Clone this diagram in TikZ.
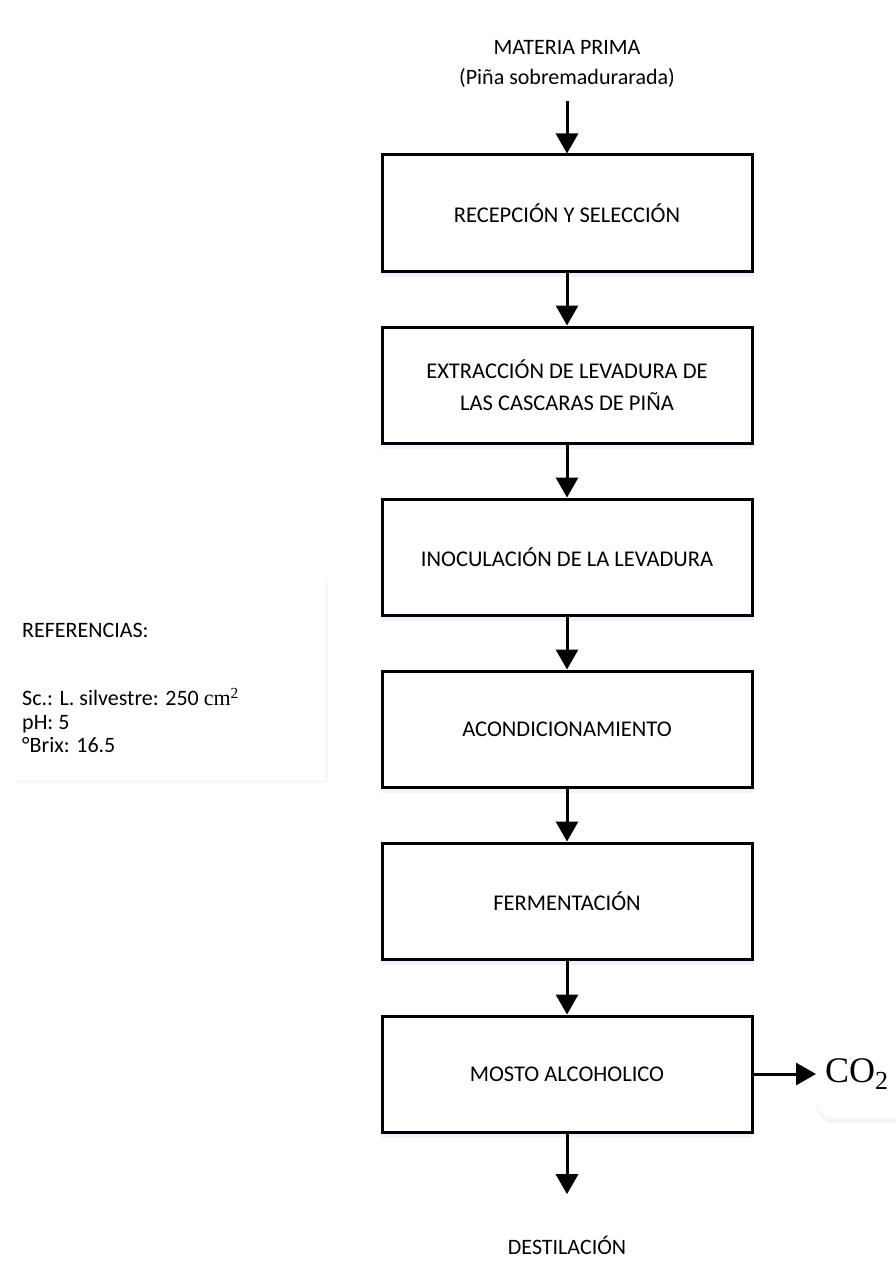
\documentclass[tikz,border=0pt]{standalone}
\usepackage{fontspec}
\setmainfont{Carlito}
\newfontfamily\serifco{Liberation Serif}
\usetikzlibrary{arrows.meta,shadows}

\begin{document}
\begin{tikzpicture}[x=1pt,y=-1pt,
  lbl/.style={align=center,font=\fontsize{22}{30}\selectfont},
  proc/.style={draw,line width=3pt,fill=white,minimum width=370pt,minimum height=116pt,
    align=center,font=\fontsize{22.5}{32}\selectfont,
    drop shadow={shadow xshift=0pt,shadow yshift=-6pt,opacity=0.25,fill=blue!20}},
  flow/.style={line width=3pt,-{Triangle[length=20pt,width=22pt]}}]
\useasboundingbox[fill=white] (0,0) rectangle (896,1268);

\node[lbl] (mp) at (567,64) {MATERIA PRIMA\\(Piña sobremadurarada)};
\node[proc] (rec) at (567,213) {RECEPCIÓN Y SELECCIÓN};
\node[proc] (ext) at (567,385) {EXTRACCIÓN DE LEVADURA DE\\LAS CASCARAS DE PIÑA};
\node[proc] (ino) at (567,557) {INOCULACIÓN DE LA LEVADURA};
\node[proc] (aco) at (567,729) {ACONDICIONAMIENTO};
\node[proc] (fer) at (567,901) {FERMENTACIÓN};
\node[proc] (mos) at (567,1074) {MOSTO ALCOHOLICO};
\node[lbl] (des) at (567,1245) {DESTILACIÓN};

% referencias
\node[fill=white,minimum width=313pt,minimum height=205pt,anchor=north west,
  drop shadow={shadow xshift=3pt,shadow yshift=-3pt,opacity=0.15,fill=blue!20}] (refbox) at (12,575) {};
\node[anchor=north west,align=left,inner sep=0pt,font=\fontsize{22}{23.5}\selectfont] (reftxt) at (22,623)
  {REFERENCIAS:\\[45pt]Sc.: L. silvestre: 250 {\serifco cm\textsuperscript{2}}\\pH: 5\\°Brix: 16.5};

% salida
\node[fill=white,rounded corners=18pt,anchor=west,minimum height=88pt,text width=92pt,inner xsep=9pt,
  align=left,font=\serifco\fontsize{36}{38}\selectfont,
  drop shadow={shadow xshift=0pt,shadow yshift=-5pt,opacity=0.2,fill=blue!20}] (co2) at (816,1074)
  {CO\raisebox{-7pt}{\fontsize{26}{26}\selectfont 2}};

\draw[flow] ([yshift=-10pt]mp.south) -- (rec);
\draw[flow] (rec) -- (ext);
\draw[flow] (ext) -- (ino);
\draw[flow] (ino) -- (aco);
\draw[flow] (aco) -- (fer);
\draw[flow] (fer) -- (mos);
\draw[flow] (mos) -- (co2);
\draw[flow,shorten >=38pt] (mos) -- (des);
\end{tikzpicture}
\end{document}
